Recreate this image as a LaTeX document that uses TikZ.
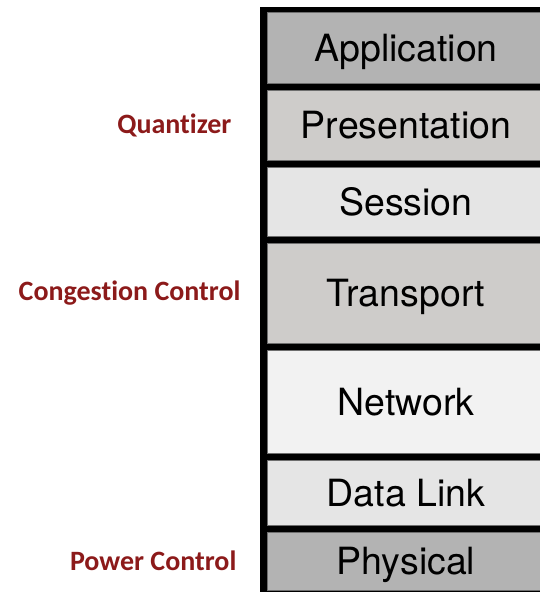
\documentclass[tikz,border=0pt]{standalone}
\usepackage{fontspec}
\setmainfont{TeX Gyre Heros}
\newfontfamily\labelfont[Ligatures=NoCommon]{Carlito}
\usetikzlibrary{positioning}
\definecolor{layerdark}{RGB}{179, 179, 179}
\definecolor{layermid}{RGB}{206, 204, 202}
\definecolor{layerlight}{RGB}{229, 229, 229}
\definecolor{layerpale}{RGB}{242, 242, 242}
\definecolor{layeredge}{RGB}{110, 110, 110}
\definecolor{labelred}{RGB}{140, 26, 26}
\tikzset{
  layer/.style={draw=layeredge, line width=0.8pt, minimum width=278pt, inner sep=0pt,
    text height=27pt, text depth=0pt, font=\fontsize{37.5}{40}\selectfont},
  lbl/.style={inner sep=0pt, text=labelred, font=\labelfont\bfseries\fontsize{28}{30}\selectfont}
}

\begin{document}
\begin{tikzpicture}[x=1pt, y=-1pt]
  \useasboundingbox (0,0) rectangle (539,592);

  % black frame behind the stack
  \fill[black] (260,7) rectangle (545,592);

  % OSI layers
  \node[layer, fill=layerdark,  minimum height=71pt]  (app)   at (406,47.5)  {Application};
  \node[layer, fill=layermid,   minimum height=70pt]  (pres)  at (406,125)   {Presentation};
  \node[layer, fill=layerlight, minimum height=69pt]  (sess)  at (406,201.5) {Session};
  \node[layer, fill=layermid,   minimum height=100pt] (trans) at (406,293)   {Transport};
  \node[layer, fill=layerpale,  minimum height=103pt] (net)   at (406,401.5) {Network};
  \node[layer, fill=layerlight, minimum height=65pt]  (dlink) at (406,492.5) {Data Link};
  \node[layer, fill=layerdark,  minimum height=58pt]  (phys)  at (406,561)   {Physical};

  % cross-layer labels
  \node[lbl, left=35pt of pres]  (quant) {Quantizer};
  \node[lbl, left=26pt of trans] (cong)  {Congestion Control};
  \node[lbl, left=30pt of phys]  (power) {Power Control};
\end{tikzpicture}
\end{document}
